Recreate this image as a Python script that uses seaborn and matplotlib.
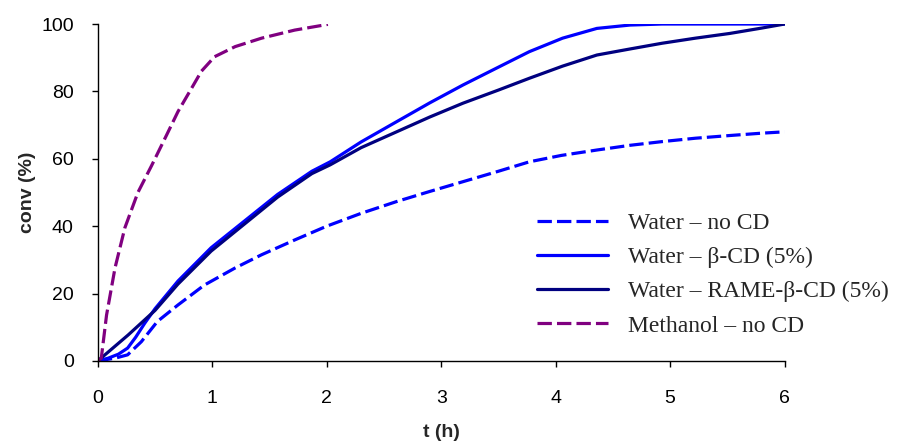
import pandas as pd
import numpy as np
import matplotlib
matplotlib.use("Agg")
import matplotlib.pyplot as plt
import seaborn as sns

# values (conversion in %, time in h)
t_water_nocd = [0, 0.15, 0.26, 0.38, 0.52, 0.7, 0.93, 1.2, 1.43, 1.72, 2.0,
                2.3, 2.61, 2.9, 3.19, 3.5, 3.77, 4.05, 4.36, 4.65, 4.93, 5.22,
                5.52, 5.8, 6.0]
y_water_nocd = [0, 0.8, 1.8, 5.7, 11.7, 16.6, 22.5, 27.6, 31.5, 35.9, 40,
                43.8, 47.3, 50.3, 53.2, 56.3, 59.1, 61, 62.6, 64, 65.1, 66.1,
                66.9, 67.6, 68]

t_water_bcd = [0, 0.09, 0.18, 0.26, 0.33, 0.41, 0.5, 0.7, 0.99, 1.28, 1.57, 1.87,
               2.03, 2.3, 2.61, 2.9, 3.19, 3.5, 3.77, 4.06, 4.36, 4.65, 4.93,
               5.5, 6.0]
y_water_bcd = [0, 0.8, 2.0, 3.8, 7.0, 11.2, 15.5, 23.7, 33.6, 41.5, 49.4, 56.3,
               59.1, 65, 71, 76.6, 81.9, 87.2, 91.8, 95.8, 98.7, 99.7, 100,
               100, 100]

t_water_rame = [0, 0.265, 0.5, 0.7, 0.99, 1.28, 1.57, 1.87, 2.03, 2.3, 2.61,
                2.9, 3.19, 3.5, 3.77, 4.06, 4.36, 4.65, 4.93, 5.22, 5.52, 5.8,
                6.0]
y_water_rame = [0, 7.7, 15, 22.8, 32.6, 40.6, 48.6, 55.6, 58.2, 63.3, 68,
                72.4, 76.5, 80.4, 83.9, 87.5, 90.8, 92.6, 94.3, 95.8, 97.2, 98.8,
                100]

t_methanol = [0, 0.03, 0.076, 0.15, 0.236, 0.35, 0.47, 0.6, 0.7, 0.82, 0.905,
              1.02, 1.2, 1.43, 1.72, 2.01]
y_methanol = [0, 0.8, 13.6, 27.6, 39.5, 50, 58, 67, 74, 81, 86,
              90.3, 93.3, 95.8, 98.2, 99.9]

labels = ["Water \u2013 no CD", "Water \u2013 \u03b2-CD (5%)",
          "Water \u2013 RAME-\u03b2-CD (5%)", "Methanol \u2013 no CD"]

sns.set_style("ticks")
plt.rcParams["font.family"] = ["Liberation Sans", "DejaVu Sans"]

fig = plt.figure(figsize=(9.06, 4.45), dpi=100)
ax = fig.add_axes([0.108, 0.189, 0.758, 0.757])

dash = (0, (4.5, 1.6))
series = [
    (t_water_nocd, y_water_nocd, labels[0], "#0000FF", dash),
    (t_water_bcd, y_water_bcd, labels[1], "#0000FF", "-"),
    (t_water_rame, y_water_rame, labels[2], "#000080", "-"),
    (t_methanol, y_methanol, labels[3], "#800080", dash),
]
for t, y, lab, col, ls in series:
    df = pd.DataFrame({"t": t, "conv": y})
    sns.lineplot(data=df, x="t", y="conv", ax=ax, color=col, linewidth=2.3,
                 linestyle=ls, label=lab, sort=False)

ax.set_xlim(0, 6)
ax.set_ylim(0, 100)
ax.set_xticks(range(0, 7))
ax.set_yticks(range(0, 101, 20))
ax.tick_params(axis="both", direction="out", length=4.3, width=1, colors="black",
               labelsize=14)
ax.tick_params(axis="y", pad=13)
ax.tick_params(axis="x", pad=17)
for s in ["left", "bottom"]:
    ax.spines[s].set_color("black")
    ax.spines[s].set_linewidth(1)
sns.despine(ax=ax)

ax.set_xlabel("t (h)", fontsize=14, fontweight="bold", labelpad=12)
ax.set_ylabel("conv (%)", fontsize=14, fontweight="bold", labelpad=4)

leg = ax.legend(loc="center left", bbox_to_anchor=(0.593, 0.383),
                bbox_transform=fig.transFigure, frameon=False,
                prop={"family": ["Liberation Serif", "DejaVu Serif"], "size": 17},
                handlelength=3.0, handletextpad=0.85, labelspacing=0.54,
                borderpad=0, borderaxespad=0)

fig.savefig("out.png", dpi=100)
